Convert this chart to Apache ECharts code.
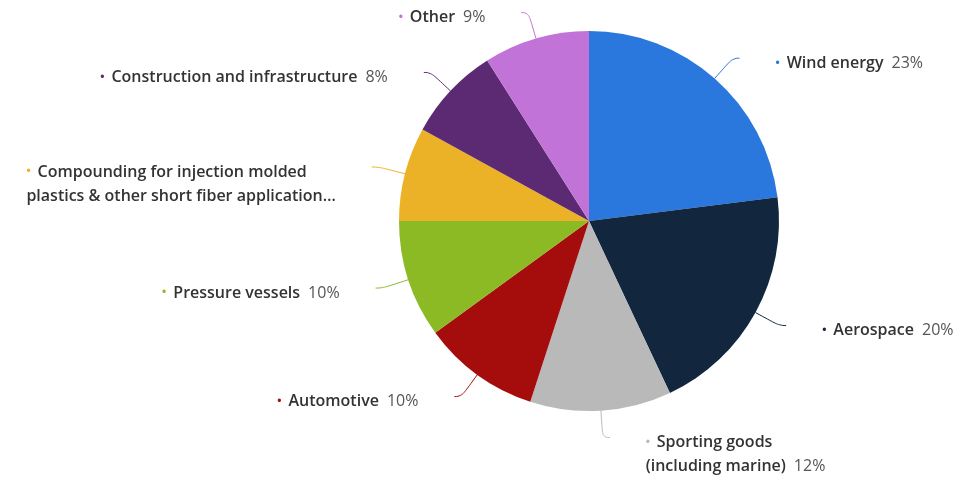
<!DOCTYPE html>
<html>
<head>
<meta charset="utf-8">
<script src="https://cdn.jsdelivr.net/npm/echarts@6/dist/echarts.min.js"></script>
<style>
  html, body { margin: 0; padding: 0; background: #fff; }
  #chart { width: 957px; height: 481px; }
</style>
</head>
<body>
<div id="chart"></div>
<script>
// Carbon fiber demand by application, share in percent
const categories = [
  'Wind energy',
  'Aerospace',
  'Sporting goods\n(including marine)',
  'Automotive',
  'Pressure vessels',
  'Compounding for injection molded\nplastics & other short fiber application\u2026',
  'Construction and infrastructure',
  'Other'
];
const shares = [23, 20, 12, 10, 10, 8, 8, 9];
const colors = ['#2a77dd', '#12263e', '#b9b9b9', '#a50c0c', '#8bba25', '#ecb227', '#5c2a72', '#c273d8'];

const FONT = '"Open Sans", "Noto Sans", sans-serif';

// one rich style per slice colour for the bullet in front of each label
const rich = {
  name: { fontFamily: FONT, fontSize: 16, fontWeight: 600, color: '#333', lineHeight: 24, align: 'left' },
  val: { fontFamily: FONT, fontSize: 16, fontWeight: 400, color: '#555', lineHeight: 24, align: 'left', padding: [0, 0, 0, 8] }
};
colors.forEach((c, i) => {
  rich['d' + i] = { color: c, fontSize: 12, lineHeight: 24, align: 'left', padding: [0, 7, 0, 0] };
});

const data = categories.map((name, i) => {
  const twoLines = name.indexOf('\n') >= 0;
  return {
    name: name,
    value: shares[i],
    itemStyle: { color: colors[i] },
    labelLine: { lineStyle: { color: colors[i] } },
    label: { padding: twoLines ? [34, 0, 0, 0] : [10, 0, 0, 0] }
  };
});

const chart = echarts.init(document.getElementById('chart'));
chart.setOption({
  backgroundColor: '#fff',
  animation: false,
  series: [{
    type: 'pie',
    center: [589, 221],
    radius: 190,
    startAngle: 90,
    clockwise: true,
    avoidLabelOverlap: false,
    data: data,
    label: {
      show: true,
      position: 'outside',
      distanceToLabelLine: 36,
      formatter: (p) => {
        const i = p.dataIndex;
        const truncated = p.name.endsWith('\u2026');
        return '{d' + i + '|\u2022}{name|' + p.name + '}' + (truncated ? '' : '{val|' + shares[i] + '%}');
      },
      rich: rich
    },
    labelLine: {
      show: true,
      length: 27,
      length2: 7,
      smooth: 0.5,
      lineStyle: { width: 1 }
    },
    emphasis: { disabled: true }
  }]
});
</script>
</body>
</html>
